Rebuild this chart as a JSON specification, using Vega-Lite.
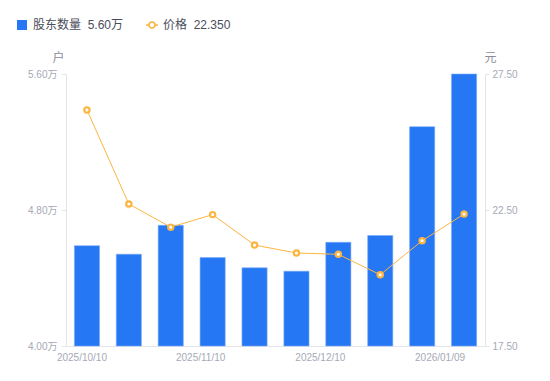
{
  "$schema": "https://vega.github.io/schema/vega-lite/v6.json",
  "width": 419,
  "height": 272,
  "autosize": {"type": "none"},
  "padding": {"left": 66, "top": 74, "right": 65, "bottom": 35},
  "config": {
    "font": "Liberation Sans, Noto Sans CJK SC",
    "view": {"stroke": null},
    "axis": {
      "labelColor": "#a6a9b6",
      "labelFontSize": 10,
      "domainColor": "#e3e5ea",
      "tickColor": "#e3e5ea",
      "grid": false,
      "titleColor": "#8a8d99",
      "titleFontSize": 12,
      "titleFontWeight": "normal"
    },
    "legend": {
      "title": null,
      "orient": "none",
      "direction": "horizontal",
      "padding": 0,
      "symbolSize": 100,
      "labelFontSize": 12,
      "labelColor": "#4a4d5a",
      "labelOffset": 5,
      "legendY": -55
    }
  },
  "data": {
    "values": [
      {"date": "2025/10/10", "holders": 4.59, "price": 26.18},
      {"date": "2025/10/20", "holders": 4.54, "price": 22.72},
      {"date": "2025/10/31", "holders": 4.71, "price": 21.87},
      {"date": "2025/11/10", "holders": 4.52, "price": 22.33},
      {"date": "2025/11/20", "holders": 4.46, "price": 21.21},
      {"date": "2025/11/28", "holders": 4.44, "price": 20.92},
      {"date": "2025/12/10", "holders": 4.61, "price": 20.87},
      {"date": "2025/12/19", "holders": 4.65, "price": 20.12},
      {"date": "2025/12/31", "holders": 5.29, "price": 21.37},
      {"date": "2026/01/09", "holders": 5.60, "price": 22.35}
    ]
  },
  "encoding": {
    "x": {
      "field": "date",
      "type": "nominal",
      "sort": null,
      "scale": {"paddingInner": 0.4, "paddingOuter": 0.2},
      "axis": {
        "title": null,
        "labelAngle": 0,
        "ticks": false,
        "labelPadding": 6,
        "labelExpr": "indexof(['2025/10/10','2025/11/10','2025/12/10','2026/01/09'], datum.value) >= 0 ? datum.value : ''",
        "labelOffset": {
          "condition": [
            {"test": "datum.value === '2025/10/10'", "value": -5},
            {"test": "datum.value === '2025/11/10'", "value": -12},
            {"test": "datum.value === '2025/12/10'", "value": -18},
            {"test": "datum.value === '2026/01/09'", "value": -24}
          ],
          "value": 0
        }
      }
    }
  },
  "layer": [
    {
      "mark": {"type": "bar", "stroke": "#7eaaf6", "strokeWidth": 0.6},
      "encoding": {
        "y": {
          "field": "holders",
          "type": "quantitative",
          "scale": {"domain": [4.0, 5.6], "nice": false, "zero": false},
          "axis": {
            "title": "户",
            "titleAngle": 0,
            "titleAlign": "center",
            "titleBaseline": "middle",
            "titleX": -8,
            "titleY": -17,
            "values": [4.0, 4.8, 5.6],
            "labelExpr": "format(datum.value, '.2f') + '万'",
            "labelFlush": false,
            "tickSize": 5,
            "labelPadding": 4
          }
        },
        "y2": {"datum": 4.0},
        "fill": {
          "datum": "股东数量",
          "scale": {"range": ["#2577f4"]},
          "legend": {
            "legendX": -50,
            "symbolType": "square",
            "symbolStrokeWidth": 0,
            "symbolOpacity": 1,
            "labelExpr": "'股东数量\u00a0\u00a05.60万'"
          }
        }
      }
    },
    {
      "layer": [
        {
          "mark": {"type": "line", "strokeWidth": 1},
          "encoding": {
            "y": {"field": "price", "type": "quantitative"},
            "stroke": {
              "datum": "价格",
              "scale": {"range": ["#fcb540"]},
              "legend": {
                "legendX": 80,
                "symbolType": "M -1.2 0 L -0.6 0 M 0.6 0 L 1.2 0 M 0.6 0 A 0.6 0.6 0 1 1 -0.6 0 A 0.6 0.6 0 1 1 0.6 0",
                "symbolFillColor": "#ffffff",
                "symbolStrokeWidth": 1.6,
                "symbolOpacity": 1,
                "labelExpr": "'价格\u00a0\u00a022.350'"
              }
            }
          }
        },
        {
          "mark": {"type": "point", "filled": false, "fill": "#ffffff", "fillOpacity": 1, "stroke": "#fcb540", "strokeWidth": 2.2, "size": 28, "opacity": 1},
          "encoding": {
            "y": {"field": "price", "type": "quantitative"}
          }
        }
      ],
      "encoding": {
        "y": {
          "field": "price",
          "type": "quantitative",
          "scale": {"domain": [17.5, 27.5], "nice": false, "zero": false},
          "axis": {
            "orient": "right",
            "title": "元",
            "titleAngle": 0,
            "titleAlign": "center",
            "titleBaseline": "middle",
            "titleX": 5,
            "titleY": -17,
            "values": [17.5, 22.5, 27.5],
            "format": ".2f",
            "labelFlush": false,
            "tickSize": 4,
            "labelPadding": 3
          }
        }
      }
    }
  ],
  "resolve": {"scale": {"y": "independent"}}
}
